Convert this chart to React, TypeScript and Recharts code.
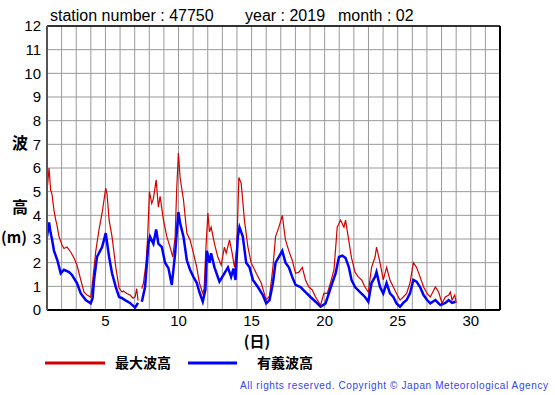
import React from 'react';
import { LineChart, Line, XAxis, YAxis, CartesianGrid, ReferenceLine } from 'recharts';

// Time axis in days of the month (fractional), values in metres
const maxDays = [1.00,1.14,1.25,1.34,1.48,1.60,1.68,1.82,2.03,2.16,2.37,2.62,2.85,3.05,3.31,3.53,3.74,3.99,4.08,4.34,4.56,4.77,5.02,5.11,5.25,5.45,5.71,5.93,6.14,6.23,6.46,6.68,6.89,7.03,7.14,7.23,7.34,7.49,7.60,7.78,7.88,8.01,8.17,8.28,8.47,8.62,8.74,8.97,9.20,9.42,9.61,9.77,9.87,9.99,10.11,10.34,10.57,10.79,11.02,11.25,11.43,11.66,11.75,11.89,12.01,12.12,12.23,12.46,12.69,12.92,13.14,13.26,13.49,13.67,13.83,13.99,14.13,14.29,14.51,14.75,14.97,15.32,15.66,16.00,16.23,16.46,16.64,16.87,17.10,17.32,17.55,17.78,18.01,18.24,18.47,18.69,18.92,19.15,19.38,19.72,19.95,20.18,20.40,20.64,20.86,21.09,21.32,21.43,21.66,21.84,22.08,22.30,22.53,22.76,22.99,23.21,23.45,23.55,23.79,24.01,24.24,24.47,24.70,24.92,25.16,25.38,25.61,25.84,26.07,26.29,26.53,26.77,27.01,27.23,27.58,27.80,28.03,28.26,28.49,28.60,28.72,28.90,29.01];
const maxVals = [5.0,6.0,5.07,4.9,4.2,3.8,3.6,3.1,2.75,2.6,2.66,2.45,2.2,1.9,1.27,0.76,0.63,0.55,0.97,2.5,3.4,4.1,5.15,4.9,3.8,3.1,1.8,0.93,0.76,0.8,0.7,0.63,0.5,0.55,0.9,0.4,null,0.9,1.14,2.0,3.0,5.0,4.5,4.7,5.5,4.35,4.8,3.8,3.1,2.66,2.24,3.1,5.0,6.63,5.6,4.65,3.25,2.96,2.4,1.8,1.14,0.7,0.9,2.8,4.1,3.3,3.5,2.8,2.24,1.9,2.66,2.4,2.96,2.4,1.8,2.66,5.6,5.35,3.8,2.66,2.0,1.55,1.14,0.42,0.6,1.8,3.1,3.5,4.0,2.96,2.5,2.1,1.55,1.6,1.8,1.27,0.97,0.85,0.55,0.2,0.7,0.7,1.14,1.7,3.5,3.8,3.5,3.8,2.9,2.2,1.6,1.4,1.27,0.97,0.76,1.8,2.24,2.66,2.0,1.27,1.8,1.27,0.97,0.7,0.42,0.55,0.7,1.14,2.0,1.8,1.4,0.97,0.7,0.55,0.97,0.76,0.28,0.55,0.63,0.76,0.42,0.63,0.3];

const sigDays = [1.00,1.14,1.25,1.34,1.48,1.71,1.94,2.16,2.51,2.71,3.05,3.31,3.65,3.99,4.12,4.22,4.42,4.77,5.02,5.25,5.45,5.71,5.93,6.14,6.34,6.68,7.03,7.23,7.34,7.49,7.71,7.94,8.05,8.28,8.47,8.62,8.86,9.08,9.31,9.54,9.77,9.99,10.11,10.34,10.57,10.79,11.02,11.25,11.43,11.66,11.84,11.94,12.12,12.23,12.46,12.80,13.14,13.38,13.60,13.76,13.90,14.06,14.17,14.40,14.63,14.86,15.09,15.43,15.77,16.00,16.23,16.46,16.64,16.87,17.10,17.32,17.55,17.78,18.01,18.35,18.69,19.03,19.38,19.72,20.06,20.29,20.52,20.75,20.98,21.21,21.43,21.66,21.84,22.08,22.42,22.76,22.99,23.21,23.45,23.55,23.79,24.01,24.24,24.47,24.70,24.92,25.16,25.38,25.61,25.84,26.07,26.29,26.53,26.77,27.01,27.23,27.58,27.92,28.26,28.49,28.72,28.95];
const sigVals = [3.1,3.7,3.25,3.0,2.5,2.1,1.55,1.7,1.6,1.48,1.14,0.7,0.42,0.28,0.5,1.27,2.24,2.66,3.25,2.24,1.55,0.97,0.55,0.5,0.42,0.3,0.1,0.3,null,0.35,0.97,2.8,3.1,2.8,3.4,2.8,2.66,2.0,1.77,1.06,2.4,4.14,3.67,3.1,2.1,1.7,1.4,1.14,0.76,0.35,0.85,2.5,2.0,2.4,1.8,1.2,1.55,1.8,1.4,1.75,1.27,3.1,3.5,3.1,2.0,1.8,1.27,0.97,0.63,0.28,0.42,1.14,2.0,2.24,2.5,2.0,1.8,1.4,1.06,0.97,0.76,0.55,0.35,0.14,0.28,0.7,1.14,1.55,2.24,2.3,2.2,1.8,1.27,0.97,0.76,0.55,0.35,1.14,1.4,1.6,0.97,0.7,1.14,0.7,0.55,0.28,0.14,0.3,0.42,0.7,1.27,1.2,0.97,0.63,0.42,0.28,0.42,0.21,0.3,0.42,0.3,0.35];

const dayTicks = [1,2,3,4,5,6,7,8,9,10,11,12,13,14,15,16,17,18,19,20,21,22,23,24,25,26,27,28,29,30,31,32];
const labelledDays = [5,10,15,20,25,30];
const heightTicks = [0,1,2,3,4,5,6,7,8,9,10,11,12];

const titleStation = 'station number : 47750';
const titleYear = 'year : 2019';
const titleMonth = 'month : 02';
const seriesNames = ['最大波高', '有義波高'];
const copyright = 'All rights reserved. Copyright © Japan Meteorological Agency';

const maxData = maxDays.map((d, i) => ({ day: d, v: maxVals[i] }));
const sigData = sigDays.map((d, i) => ({ day: d, v: sigVals[i] }));

const LATIN = '"Liberation Sans", Arial, sans-serif';
const CJK = '"Noto Sans CJK JP", sans-serif';

export default function App() {
  return (
    <div style={{ position: 'absolute', left: 0, top: 0, width: 555, height: 395, background: '#fff' }}>
      <LineChart width={555} height={395} margin={{ top: 26, right: 55, left: 0, bottom: 55 }}>
        <CartesianGrid stroke="#999" strokeWidth={1} />
        <XAxis
          type="number"
          dataKey="day"
          domain={[1, 32]}
          ticks={dayTicks}
          interval={0}
          tickFormatter={(d: number) => (labelledDays.includes(d) ? String(d) : '')}
          tickLine={false}
          tickSize={0}
          tickMargin={5}
          height={30}
          axisLine={{ stroke: '#000', strokeWidth: 2 }}
          tick={{ fill: '#000', fontSize: 15, fontFamily: LATIN }}
          allowDataOverflow
        />
        <YAxis
          type="number"
          domain={[0, 12]}
          ticks={heightTicks}
          interval={0}
          width={47}
          tickLine={false}
          tickSize={0}
          tickMargin={6}
          axisLine={{ stroke: '#555', strokeWidth: 2 }}
          tick={{ fill: '#000', fontSize: 15, fontFamily: LATIN }}
        />
        <ReferenceLine y={12} stroke="#000" strokeWidth={1.5} />
        <ReferenceLine x={32} stroke="#000" strokeWidth={2} />
        <Line data={maxData} dataKey="v" type="linear" stroke="#d40000" strokeWidth={1.2} dot={false} isAnimationActive={false} />
        <Line data={sigData} dataKey="v" type="linear" stroke="#0000ff" strokeWidth={2.5} dot={false} isAnimationActive={false} />
      </LineChart>
      <svg width={555} height={395} style={{ position: 'absolute', left: 0, top: 0, pointerEvents: 'none' }}>
        <text x={50} y={21} fontSize={16} fontFamily={LATIN} fill="#000">{titleStation}</text>
        <text x={245} y={21} fontSize={16} fontFamily={LATIN} fill="#000">{titleYear}</text>
        <text x={338} y={21} fontSize={16} fontFamily={LATIN} fill="#000">{titleMonth}</text>
        <text x={20} y={149} fontSize={16} fontFamily={CJK} fontWeight="bold" textAnchor="middle" fill="#000">波</text>
        <text x={20} y={213} fontSize={16} fontFamily={CJK} fontWeight="bold" textAnchor="middle" fill="#000">高</text>
        <text x={1} y={243} fontSize={15} fontFamily={CJK} fontWeight="bold" textLength={26} lengthAdjust="spacing" fill="#000">(m)</text>
        <text x={257} y={347} fontSize={15} fontFamily={CJK} fontWeight="bold" textAnchor="middle" fill="#000">(日)</text>
        <line x1={45} y1={363} x2={105} y2={363} stroke="#d40000" strokeWidth={3} />
        <text x={115} y={368} fontSize={14} fontFamily={CJK} fontWeight="bold" fill="#000">{seriesNames[0]}</text>
        <line x1={188} y1={363} x2={237} y2={363} stroke="#0000ff" strokeWidth={3} />
        <text x={257} y={368} fontSize={14} fontFamily={CJK} fontWeight="bold" fill="#000">{seriesNames[1]}</text>
        <text x={240} y={389} fontSize={10} fontFamily={LATIN} fill="#3344ee" textLength={308} lengthAdjust="spacing">{copyright}</text>
      </svg>
    </div>
  );
}
